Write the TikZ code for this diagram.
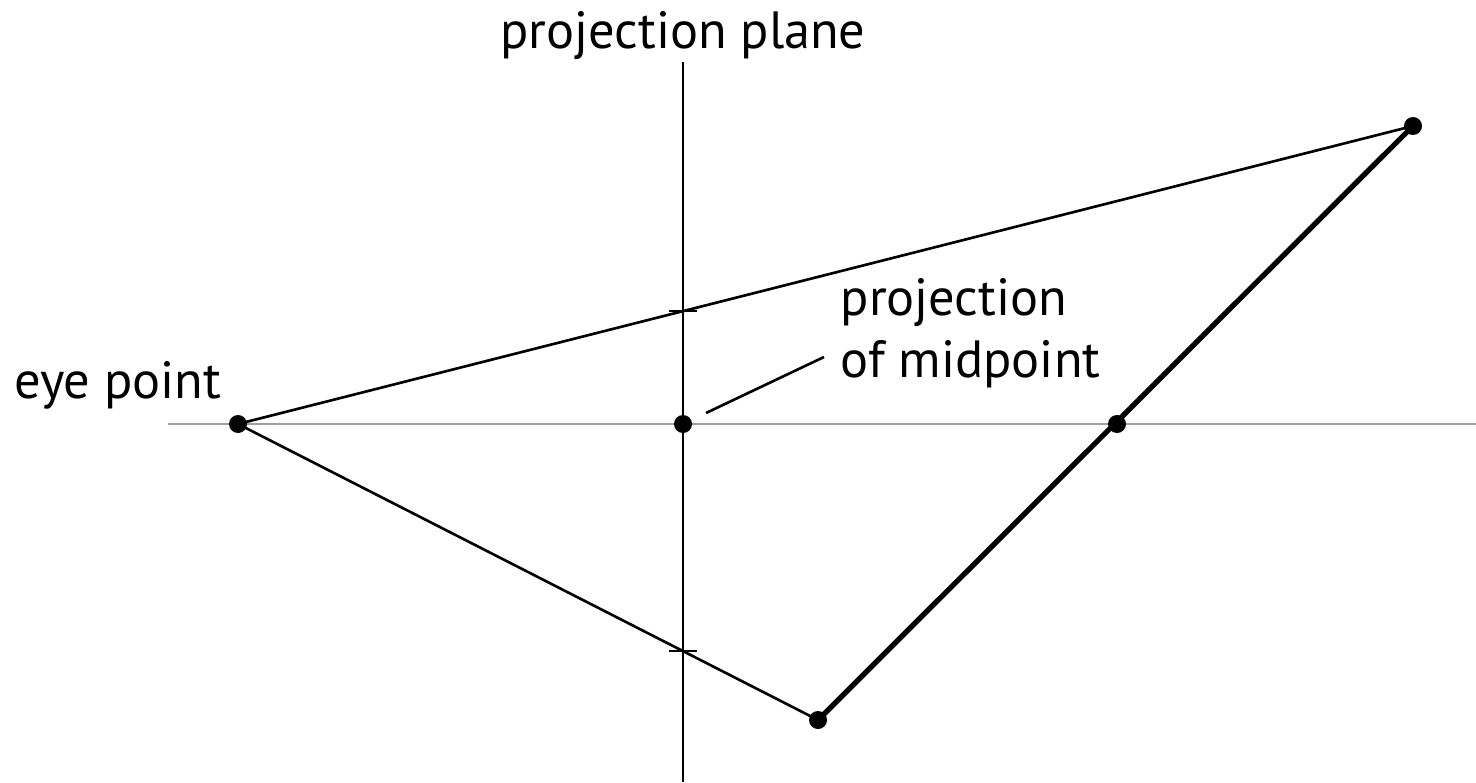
\documentclass[tikz,border=0pt]{standalone}
\usepackage{fontspec}
\setmainfont{PT Sans}
\usetikzlibrary{positioning,calc,intersections}

\begin{document}
\begin{tikzpicture}[
    font=\fontsize{14.9}{17.5}\selectfont,
    pt/.style={circle, fill=black, inner sep=0pt, minimum size=0.18cm},
    ray/.style={line width=0.75pt},
    edge/.style={line width=1.5pt},
    axis/.style={line width=0.7pt, gray!75},
    plane/.style={line width=0.75pt},
    tick/.style={line width=0.75pt},
    lbl/.style={inner sep=0pt, align=left},
  ]
  \useasboundingbox (0,0) rectangle (14.76,7.82);

  %% ================================================================
  %% Axis and projection plane
  %% ================================================================
  \coordinate (axL)  at (1.68, 3.58);
  \coordinate (axR)  at (14.76, 3.58);
  \coordinate (plT)  at (6.83, 7.20);
  \coordinate (plB)  at (6.83, 0);

  \draw[axis]  (axL) -- (axR);
  \draw[plane, name path=plane] (plT) -- (plB);

  %% ================================================================
  %% Points
  %% ================================================================
  \node[pt] (eye)   at (2.38, 3.58)  {};
  \node[pt] (top)   at (14.13, 6.56) {};
  \node[pt] (bot)   at (8.18, 0.62)  {};
  \node[pt] (mid)   at (11.17, 3.58) {};
  \node[pt] (proj)  at (6.83, 3.58)  {};

  %% Rays from the eye and the segment
  \draw[ray, name path=rayT] (eye.center) -- (top.center);
  \draw[ray, name path=rayB] (eye.center) -- (bot.center);
  \draw[edge] (bot.center) -- (top.center);

  %% Tick marks where the rays meet the plane
  \path[name intersections={of=plane and rayT, by=hitT}];
  \path[name intersections={of=plane and rayB, by=hitB}];
  \draw[tick] ([xshift=-0.14cm]hitT) -- ([xshift=0.14cm]hitT);
  \draw[tick] ([xshift=-0.14cm]hitB) -- ([xshift=0.14cm]hitB);

  %% ================================================================
  %% Labels
  %% ================================================================
  \node[lbl] (planeLbl) at (6.83, 7.46) {projection plane};
  \node[lbl] (eyeLbl)   at (1.18, 3.97) {eye point};
  \node[lbl, anchor=west] (projLbl) at (8.40, 4.49)
    {projection\\of midpoint};

  \coordinate (leadA) at (7.06, 3.69);
  \coordinate (leadB) at (8.24, 4.25);
  \draw[ray] (leadA) -- (leadB);

\end{tikzpicture}
\end{document}
